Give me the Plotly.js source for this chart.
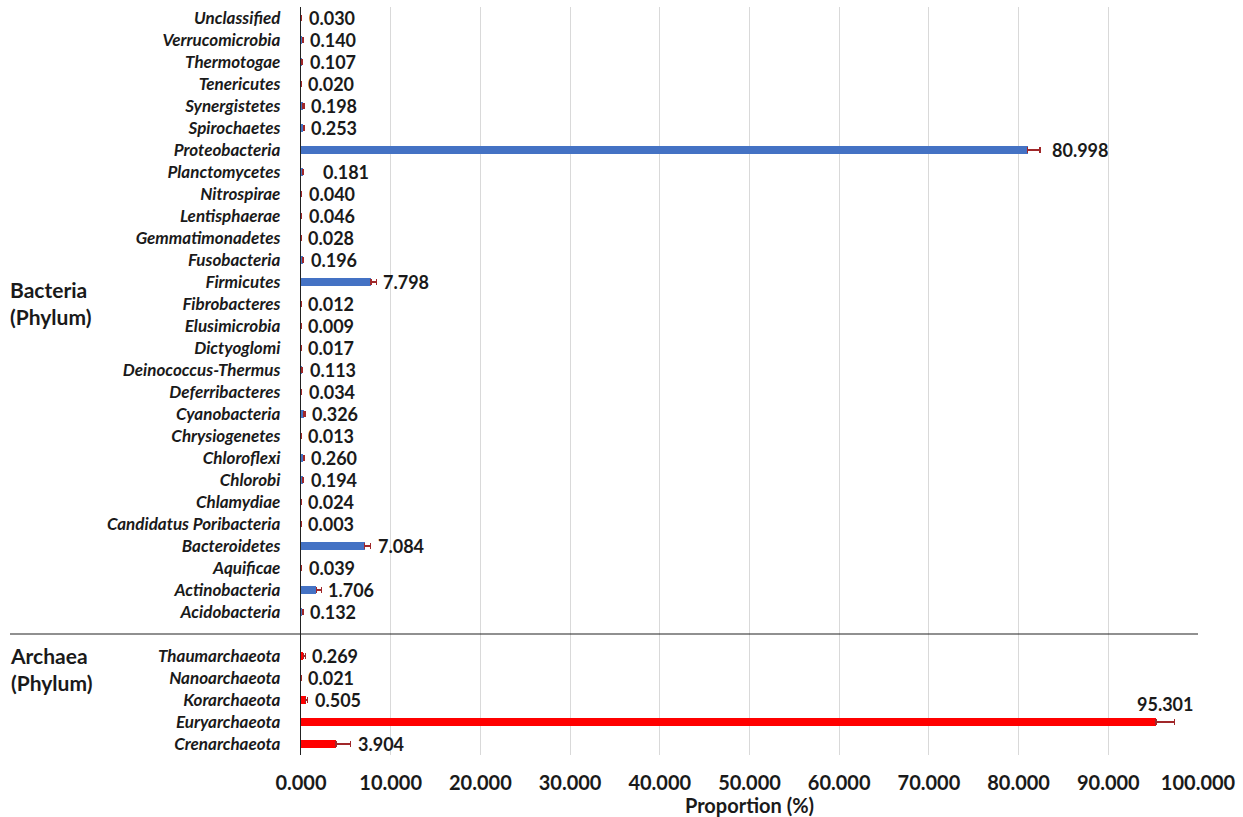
<!DOCTYPE html>
<html>
<head>
<meta charset="utf-8">
<script src="https://cdn.plot.ly/plotly-3.0.1.min.js"></script>
<style>
  html, body { margin: 0; padding: 0; background: #fff; }
  #chart { width: 1243px; height: 817px; }
</style>
</head>
<body>
<div id="chart"></div>
<script>
// Bacterial phyla, listed top to bottom
const bacteriaNames = [
  'Unclassified', 'Verrucomicrobia', 'Thermotogae', 'Tenericutes', 'Synergistetes',
  'Spirochaetes', 'Proteobacteria', 'Planctomycetes', 'Nitrospirae', 'Lentisphaerae',
  'Gemmatimonadetes', 'Fusobacteria', 'Firmicutes', 'Fibrobacteres', 'Elusimicrobia',
  'Dictyoglomi', 'Deinococcus-Thermus', 'Deferribacteres', 'Cyanobacteria', 'Chrysiogenetes',
  'Chloroflexi', 'Chlorobi', 'Chlamydiae', 'Candidatus Poribacteria', 'Bacteroidetes',
  'Aquificae', 'Actinobacteria', 'Acidobacteria'
];
const bacteriaValues = [
  0.030, 0.140, 0.107, 0.020, 0.198,
  0.253, 80.998, 0.181, 0.040, 0.046,
  0.028, 0.196, 7.798, 0.012, 0.009,
  0.017, 0.113, 0.034, 0.326, 0.013,
  0.260, 0.194, 0.024, 0.003, 7.084,
  0.039, 1.706, 0.132
];
const bacteriaErrors = [
  0.03, 0.10, 0.08, 0.02, 0.12,
  0.10, 1.40, 0.10, 0.03, 0.03,
  0.02, 0.12, 0.60, 0.01, 0.01,
  0.01, 0.08, 0.03, 0.15, 0.01,
  0.10, 0.12, 0.02, 0.00, 0.70,
  0.03, 0.55, 0.08
];

// Archaeal phyla, listed top to bottom
const archaeaNames = ['Thaumarchaeota', 'Nanoarchaeota', 'Korarchaeota', 'Euryarchaeota', 'Crenarchaeota'];
const archaeaValues = [0.269, 0.021, 0.505, 95.301, 3.904];
const archaeaErrors = [0.20, 0.02, 0.25, 2.10, 1.65];

const xTicks = [0, 10, 20, 30, 40, 50, 60, 70, 80, 90, 100];

// Row positions: bacteria first, one empty row as a divider, then archaea
const bacteriaRows = bacteriaNames.map((_, i) => i);
const dividerRow = bacteriaNames.length;
const archaeaRows = archaeaNames.map((_, i) => dividerRow + 1 + i);
const rowCount = dividerRow + 1 + archaeaNames.length;

const FONT = 'Lato, "Open Sans", sans-serif';
const INK = '#1a1a1a';
const errColor = '#A0282A';

function barTrace(values, errors, rows, color) {
  return {
    type: 'bar',
    orientation: 'h',
    x: values,
    y: rows,
    width: 0.36,
    marker: { color: color },
    error_x: {
      type: 'data', symmetric: false, array: errors,
      arrayminus: errors.map(() => 0),
      color: errColor, thickness: 1.3, width: 3
    },
    hoverinfo: 'skip',
    showlegend: false
  };
}

const traces = [
  barTrace(bacteriaValues, bacteriaErrors, bacteriaRows, '#4472C4'),
  barTrace(archaeaValues, archaeaErrors, archaeaRows, '#FF0000')
];

// Value labels just past the end of each error bar
const nudge = { 'Proteobacteria': 5, 'Planctomycetes': 12 };
const labelFont = { family: FONT, size: 18, color: INK, weight: 'bold' };
const annotations = [];
function addLabels(names, values, errors, rows) {
  names.forEach((n, i) => {
    const txt = values[i].toFixed(3);
    if (n === 'Euryarchaeota') {
      annotations.push({
        x: values[i] + errors[i] / 2, y: rows[i], text: txt, showarrow: false,
        xanchor: 'center', yanchor: 'bottom', yshift: 5, font: labelFont
      });
    } else {
      annotations.push({
        x: values[i] + errors[i], y: rows[i], text: txt, showarrow: false,
        xanchor: 'left', yanchor: 'middle', xshift: 5 + (nudge[n] || 0), font: labelFont
      });
    }
  });
}
addLabels(bacteriaNames, bacteriaValues, bacteriaErrors, bacteriaRows);
addLabels(archaeaNames, archaeaValues, archaeaErrors, archaeaRows);

// Group headings on the far left
const plotLeft = 301, plotWidth = 897;
const headX = (8 - plotLeft) / plotWidth;
const headFont = { family: FONT, size: 21, color: INK, weight: 'bold' };
annotations.push({
  xref: 'paper', x: headX, y: 12.95, xanchor: 'left', yanchor: 'middle', align: 'left',
  text: 'Bacteria<br>(Phylum)', showarrow: false, font: headFont
});
annotations.push({
  xref: 'paper', x: headX, y: 29.6, xanchor: 'left', yanchor: 'middle', align: 'left',
  text: 'Archaea<br>(Phylum)', showarrow: false, font: headFont
});

const layout = {
  width: 1243, height: 817,
  margin: { l: plotLeft, r: 45, t: 7, b: 62, pad: 0 },
  paper_bgcolor: '#ffffff', plot_bgcolor: '#ffffff',
  font: { family: FONT, color: INK },
  bargap: 0,
  xaxis: {
    range: [0, 100], tickvals: xTicks, tickformat: '.3f',
    showgrid: true, gridcolor: '#d9d9d9', gridwidth: 1,
    zeroline: false, showline: false, ticks: '', ticklabelstandoff: 14,
    tickfont: { family: FONT, size: 20, color: INK, weight: 'bold' },
    title: { text: 'Proportion (%)', standoff: 2,
             font: { family: FONT, size: 20, color: INK, weight: 'bold' } },
    fixedrange: true
  },
  yaxis: {
    range: [rowCount - 0.5, -0.5],
    tickvals: bacteriaRows.concat(archaeaRows),
    ticktext: bacteriaNames.concat(archaeaNames),
    showgrid: false, zeroline: false,
    showline: true, linecolor: '#222', linewidth: 1.2,
    ticks: '', ticklabelstandoff: 16,
    tickfont: { family: FONT, size: 17, color: INK, style: 'italic', weight: 'bold' },
    fixedrange: true
  },
  shapes: [{
    type: 'line', xref: 'paper', yref: 'y',
    x0: (10 - plotLeft) / plotWidth, x1: 1, y0: dividerRow, y1: dividerRow,
    line: { color: '#222', width: 1.2 }
  }],
  annotations: annotations
};

Plotly.newPlot('chart', traces, layout, { displayModeBar: false, staticPlot: true });
</script>
</body>
</html>
